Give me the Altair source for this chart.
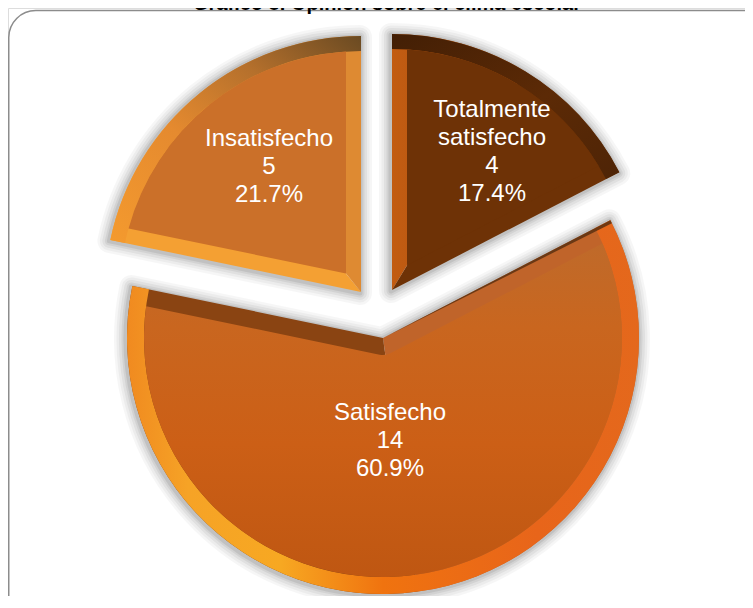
import math
import altair as alt
import pandas as pd

categories = ["Totalmente satisfecho", "Satisfecho", "Insatisfecho"]
values = [4, 14, 5]
label_lines = ["Totalmente\nsatisfecho", "Satisfecho", "Insatisfecho"]
title_text = "Gráfico 8. Opinión sobre el clima escolar"

total = sum(values)
rows, s = [], 0
for c, v, l in zip(categories, values, label_lines):
    rows.append(dict(cat=c, value=v, start=s, end=s + v, mid=s + v / 2,
                     edge=s + 0.05, label=f"{l}\n{v}\n{v / total * 100:.1f}%"))
    s += v
df = pd.DataFrame(rows)

OX, OY = 8, 8  # page margin
R = 256
theta_scale = alt.Scale(domain=[0, total], range=[0, 2 * math.pi])
base = alt.Chart(df)


def grad(stops, x1=0, y1=0, x2=0, y2=1):
    return alt.Gradient(gradient="linear", x1=x1, y1=y1, x2=x2, y2=y2,
                        stops=[alt.GradientStop(offset=o, color=c) for o, c in stops])


def arc(cat, cx, cy, a="start", b="end", **mark):
    return (base.transform_filter(alt.datum.cat == cat)
            .mark_arc(**mark)
            .encode(theta=alt.Theta(f"{a}:Q", scale=theta_scale),
                    theta2=alt.Theta2(f"{b}:Q"),
                    x=alt.value(cx - OX), y=alt.value(cy - OY)))


def face_params(cat, d):
    v = values[categories.index(cat)]
    half = math.pi * v / total
    r1 = R - d
    r0 = d / math.sin(half) * 0.999 if half < math.pi / 2 else d
    rp = math.hypot(r0, r1)
    return dict(innerRadius=r0, outerRadius=r1, padAngle=2 * math.asin(d / rp))


slices = {
    "Totalmente satisfecho": dict(c=(392, 290), d=15,
        a=grad([(0, "#c25c12"), (1, "#a24c0e")], 0, 0, 1, 0), b="#6e3206",
        ring=grad([(0, "#431f05"), (0.55, "#5c2a06"), (1, "#4e2406")], 0, 0, 1, 1),
        face="#6e3206"),
    "Satisfecho": dict(c=(383, 338), d=17,
        a="#c0642a", b="#8a4412",
        ring=grad([(0, "#f08a20"), (0.12, "#f6a326"), (0.3, "#f7a822"),
                   (0.5, "#f0730f"), (0.8, "#e8651a"), (1, "#e4681c")], 0, 0, 1, 0),
        face=grad([(0, "#bf6a2a"), (0.25, "#c9661f"), (0.6, "#cc5f16"), (1, "#bf5712")])),
    "Insatisfecho": dict(c=(361, 292), d=15,
        a="#f4a033", b="#de8a32",
        ring=grad([(0, "#6a4a22"), (0.3, "#b5702c"), (0.6, "#e58a2f"), (1, "#f49a2e")], 1, 0, 0, 1),
        face="#cb7029"),
}

frame = (alt.Chart(pd.DataFrame({"k": [1]})).mark_rect(
    fill="transparent", stroke="#8c8c8c", strokeWidth=1.5, cornerRadius=27)
    .encode(x=alt.value(0.75), x2=alt.value(762), y=alt.value(10 - OY + 0.5), y2=alt.value(628)))

title = (alt.Chart(pd.DataFrame({"t": [title_text]})).mark_text(
    font="Liberation Sans", fontWeight="bold", fontSize=20, color="#000000",
    align="center", baseline="alphabetic")
    .encode(text="t:N", x=alt.value(387 - OX), y=alt.value(1.5)))

layers = [frame, title]

# soft shadows
for w, o in [(24, 0.035), (19, 0.04), (14, 0.05), (9, 0.06), (5, 0.08)]:
    for cat, p in slices.items():
        layers.append(arc(cat, p["c"][0] - 1, p["c"][1] + 1, outerRadius=R, innerRadius=0,
                          fill="#000000", fillOpacity=0.0001, stroke="#000000",
                          strokeOpacity=o, strokeWidth=w, strokeJoin="round"))
for cat, p in slices.items():
    cx, cy = p["c"]
    layers.append(arc(cat, cx, cy, "start", "mid", outerRadius=R, innerRadius=0, fill=p["a"]))
    layers.append(arc(cat, cx, cy, "mid", "end", outerRadius=R, innerRadius=0, fill=p["b"]))
    layers.append(arc(cat, cx, cy, outerRadius=R, innerRadius=R - p["d"], fill=p["ring"]))
    layers.append(arc(cat, cx, cy, fill=p["face"], **face_params(cat, p["d"])))

# dark line along the upper edge of the large slice
layers.append(arc("Satisfecho", 383, 338, "start", "edge", outerRadius=R, innerRadius=0,
                  fill="#5a3010", fillOpacity=0.85))

# labels
label_pos = {"Totalmente satisfecho": (492, 110), "Satisfecho": (390, 413), "Insatisfecho": (269, 139)}
for cat, (lx, ly) in label_pos.items():
    layers.append(base.transform_filter(alt.datum.cat == cat).mark_text(
        font="Liberation Sans", fontSize=24, color="#ffffff", align="center",
        baseline="middle", lineBreak="\n", lineHeight=28)
        .encode(text="label:N", x=alt.value(lx - OX), y=alt.value(ly - OY)))

chart = alt.layer(*layers).properties(
    width=737, height=588, padding=0, autosize=alt.AutoSizeParams(type="none")
).configure_view(stroke=None).configure(background="#ffffff")

chart.save("out.html", embed_options={"renderer": "svg", "actions": False})
